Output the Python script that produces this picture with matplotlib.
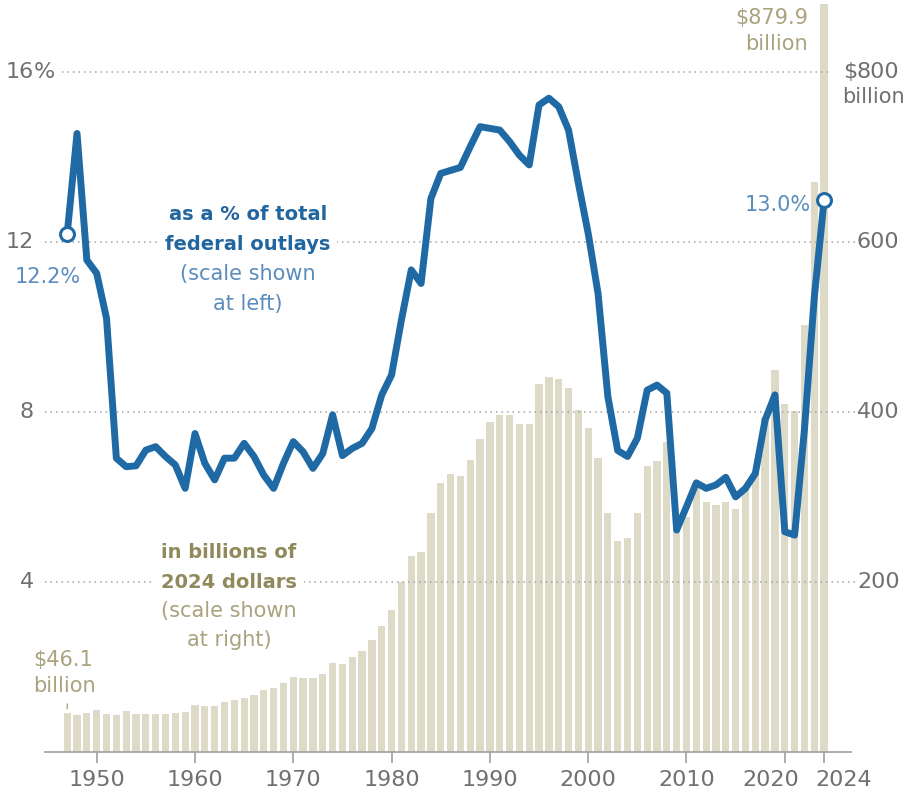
import matplotlib
matplotlib.use("Agg")
import matplotlib.pyplot as plt
import matplotlib.transforms as mtransforms

# ---------------- data ----------------
years = list(range(1947, 2025))
pct_outlays = [12.2, 14.56, 11.58, 11.27, 10.21, 6.92, 6.72, 6.74, 7.11, 7.19,
               6.96, 6.76, 6.21, 7.5, 6.8, 6.41, 6.92, 6.92, 7.27, 6.96,
               6.52, 6.21, 6.8, 7.31, 7.07, 6.68, 7.03, 7.94, 6.98, 7.15,
               7.27, 7.62, 8.41, 8.88, 10.17, 11.35, 11.03, 13.03, 13.62, 13.69,
               13.76, 14.25, 14.72, 14.68, 14.64, 14.37, 14.05, 13.82, 15.23, 15.39,
               15.19, 14.64, 13.39, 12.21, 10.8, 8.37, 7.1, 6.96, 7.39, 8.52,
               8.64, 8.45, 5.23, 5.78, 6.34, 6.21, 6.29, 6.47, 6.01, 6.21,
               6.56, 7.82, 8.41, 5.19, 5.11, 7.6, 10.7, 13.0]
billions_2024 = [46.1, 44, 46, 50, 45, 44, 48, 45, 45, 45,
                 45, 46, 47, 55.6, 54, 54, 59.5, 62, 63.5, 67,
                 73, 76, 82, 88, 87, 87, 92, 105, 104, 112,
                 119.5, 132, 148, 167, 200, 231, 236, 281, 317, 327,
                 325, 344, 369, 388, 397, 397, 386, 386, 433, 442,
                 439, 429, 403, 382, 346, 282, 248, 252, 281, 337,
                 343, 365, 268, 277, 315, 295, 291, 295, 286, 308,
                 330, 395, 450, 410, 401, 503, 671, 879.9]
left_ticks = [4, 8, 12, 16]
right_ticks = [200, 400, 600, 800]
x_ticks = [1950, 1960, 1970, 1980, 1990, 2000, 2010, 2020, 2024]
x_tick_labels = ["1950", "1960", "1970", "1980", "1990", "2000", "2010", "2020", "2024"]

# ---------------- style ----------------
plt.rcParams['font.family'] = ['DejaVu Sans']
BLUE = "#1f6aa5"
BLUE_TXT = "#2266a0"
BLUE_LIGHT = "#5a8dbd"
BAR = "#dddac8"
OLIVE_BOLD = "#8f895c"
OLIVE = "#a9a37f"
GRAY = "#707070"
GRID = "#a5a5a5"

W, H = 906, 797
fig = plt.figure(figsize=(W / 100, H / 100), dpi=100)


def fx(px):
    return px / W


def fy(py):
    return 1 - py / H


x0_px, x1_px = 45, 855
base_px = 752.3
px_per_year = 9.83
first_px = 67.2
xlim = (years[0] - (first_px - x0_px) / px_per_year,
        years[0] + (x1_px - first_px) / px_per_year)

ax = fig.add_axes([fx(x0_px), fy(base_px), (x1_px - x0_px) / W, base_px / H])
ax.set_xlim(*xlim)
ax.set_ylim(0, 885)
ax2 = ax.twinx()
ax2.set_ylim(0, 17.7)
ax2.set_xlim(*xlim)

# bars (billions, right scale)
ax.bar(years, billions_2024, width=0.74, color=BAR, zorder=1, linewidth=0)

# gridlines
for v in right_ticks:
    if v == right_ticks[-1]:
        ax.axhline(v, xmin=(62 - x0_px) / (x1_px - x0_px), xmax=(830 - x0_px) / (x1_px - x0_px),
                   color=GRID, lw=1.1, ls=(0, (1, 2.6)), zorder=2)
    else:
        ax.axhline(v, xmin=0, xmax=1, color=GRID, lw=1.1, ls=(0, (1, 2.6)), zorder=2)

# line
ax2.plot(years, pct_outlays, color=BLUE, lw=5.0, solid_joinstyle='round',
         solid_capstyle='round', zorder=3)
ax2.plot([years[0], years[-1]], [pct_outlays[0], pct_outlays[-1]], 'o', ms=10,
         mfc='white', mec=BLUE, mew=2.2, zorder=4)

# axes styling
for a in (ax, ax2):
    for s in ('top', 'right', 'left'):
        a.spines[s].set_visible(False)
    a.set_yticks([])
ax2.spines['bottom'].set_visible(False)
ax2.set_xticks([])
ax.spines['bottom'].set_color("#a0a0a0")
ax.spines['bottom'].set_linewidth(1.2)
ax.spines['bottom'].set_bounds(xlim[0], years[0] + (851 - first_px) / px_per_year)
ax.set_xticks(x_ticks)
ax.set_xticklabels(x_tick_labels)
ax.tick_params(axis='x', length=8, width=1.2, color="#a0a0a0", labelsize=16,
               labelcolor=GRAY, pad=5)
# nudge the two crowded labels apart, as in the reference
labels = ax.get_xticklabels()
labels[-2].set_transform(labels[-2].get_transform() +
                         mtransforms.ScaledTranslation(-14 / 100, 0, fig.dpi_scale_trans))
labels[-1].set_transform(labels[-1].get_transform() +
                         mtransforms.ScaledTranslation(20 / 100, 0, fig.dpi_scale_trans))

# left scale labels
tl = mtransforms.blended_transform_factory(fig.transFigure, ax2.transData)
for v in left_ticks:
    ax2.text(fx(34), v, str(v), ha='right', va='center', fontsize=16, color=GRAY, transform=tl)
ax2.text(fx(34), left_ticks[-1], "%", ha='left', va='center', fontsize=16, color=GRAY, transform=tl)

# right scale labels
tr = mtransforms.blended_transform_factory(fig.transFigure, ax.transData)
for v in right_ticks[:-1]:
    ax.text(fx(857), v, str(v), ha='left', va='center', fontsize=16, color=GRAY, transform=tr)
ax.text(fx(857), right_ticks[-1], "$", ha='right', va='center', fontsize=16, color=GRAY, transform=tr)
ax.text(fx(857), right_ticks[-1], str(right_ticks[-1]), ha='left', va='center', fontsize=16,
        color=GRAY, transform=tr)
fig.text(fx(842), fy(103), "billion", ha='left', va='baseline', fontsize=15, color=GRAY)

# annotations
fig.text(fx(33), fy(666), "$46.1", ha='left', va='baseline', fontsize=15, color=OLIVE)
fig.text(fx(33), fy(692), "billion", ha='left', va='baseline', fontsize=15, color=OLIVE)
ax.annotate("", xy=(years[0], billions_2024[0] + 2), xytext=(years[0], billions_2024[0] + 14),
            arrowprops=dict(arrowstyle='-', color=OLIVE, lw=1))
fig.text(fx(808), fy(24), "$879.9", ha='right', va='baseline', fontsize=15, color=OLIVE)
fig.text(fx(808), fy(50), "billion", ha='right', va='baseline', fontsize=15, color=OLIVE)

fig.text(fx(811), fy(211), "13.0%", ha='right', va='baseline', fontsize=15, color=BLUE_LIGHT)
fig.text(fx(48), fy(283), "12.2%", ha='center', va='baseline', fontsize=15, color=BLUE_LIGHT)

knock = dict(boxstyle='square,pad=0.35', facecolor='white', edgecolor='none')

cx = fx(248)
fig.text(cx, fy(220), "as a % of total", ha='center', va='baseline', fontsize=14,
         fontweight='bold', color=BLUE_TXT)
fig.text(cx, fy(250), "federal outlays", ha='center', va='baseline', fontsize=14,
         fontweight='bold', color=BLUE_TXT, bbox=knock)
fig.text(cx, fy(280), "(scale shown", ha='center', va='baseline', fontsize=15, color=BLUE_LIGHT)
fig.text(cx, fy(310), "at left)", ha='center', va='baseline', fontsize=15, color=BLUE_LIGHT)

cx2 = fx(229)
fig.text(cx2, fy(558), "in billions of", ha='center', va='baseline', fontsize=14,
         fontweight='bold', color=OLIVE_BOLD)
fig.text(cx2, fy(588), "2024 dollars", ha='center', va='baseline', fontsize=14,
         fontweight='bold', color=OLIVE_BOLD, bbox=knock)
fig.text(cx2, fy(617), "(scale shown", ha='center', va='baseline', fontsize=15, color=OLIVE)
fig.text(cx2, fy(646), "at right)", ha='center', va='baseline', fontsize=15, color=OLIVE)

fig.savefig("out.png", dpi=100, facecolor='white')
